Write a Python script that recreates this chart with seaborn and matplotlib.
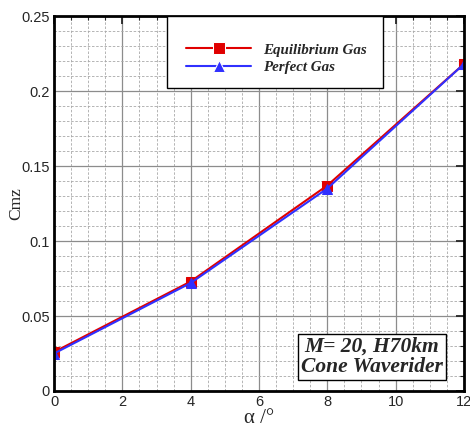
import matplotlib
matplotlib.use('Agg')
import matplotlib.pyplot as plt
import seaborn as sns
import pandas as pd
from matplotlib.ticker import MultipleLocator
from matplotlib.patches import Rectangle

alpha = [0, 4, 8, 12]
cmz_equilibrium = [0.026, 0.073, 0.137, 0.218]
cmz_perfect = [0.025, 0.072, 0.135, 0.218]
series_names = ['Equilibrium Gas', 'Perfect Gas']

df = pd.DataFrame({
    'alpha': alpha * 2,
    'cmz': cmz_equilibrium + cmz_perfect,
    'gas': [series_names[0]] * len(alpha) + [series_names[1]] * len(alpha),
})

sns.set_style('white')
plt.rcParams['font.family'] = ['Liberation Sans', 'DejaVu Sans']

fig = plt.figure(figsize=(4.7, 4.33), dpi=100)
ax = fig.add_axes([0.115, 0.097, 0.872, 0.866])

# grid first so it sits under the lines
ax.xaxis.set_major_locator(MultipleLocator(2))
ax.xaxis.set_minor_locator(MultipleLocator(0.5))
ax.yaxis.set_major_locator(MultipleLocator(0.05))
ax.yaxis.set_minor_locator(MultipleLocator(0.01))
ax.grid(which='major', color='#8c8c8c', lw=0.9, ls='-')
ax.grid(which='minor', color='#a8a8a8', lw=0.6, ls=(0, (3, 2)))
ax.set_axisbelow(True)

sns.lineplot(data=df, x='alpha', y='cmz', hue='gas', style='gas',
             palette={series_names[0]: '#e00000', series_names[1]: '#3030ff'},
             markers={series_names[0]: 's', series_names[1]: '^'},
             dashes=False, markersize=6.5, lw=1.5, ax=ax)
for ln, c in zip(ax.lines, ['#e00000', '#3030ff']):
    ln.set_markeredgecolor(c)

ax.set_xlim(0, 12)
ax.set_ylim(0, 0.25)
ax.set_yticks([0, 0.05, 0.1, 0.15, 0.2, 0.25])
ax.set_yticklabels(['0', '0.05', '0.1', '0.15', '0.2', '0.25'])
ax.tick_params(which='both', direction='in', top=True, right=True, labelsize=10.5, pad=3)
ax.tick_params(which='major', length=6, width=1.3)
ax.tick_params(which='minor', length=3, width=0.8)
for s in ax.spines.values():
    s.set_linewidth(2)
    s.set_color('black')

ax.set_xlabel('α /°', fontsize=15, family='Liberation Serif', labelpad=0)
ax.set_ylabel('Cmz', fontsize=12.5, family='Liberation Serif', labelpad=-2)

# legend box drawn separately so its size matches the reference
ax.add_patch(Rectangle((0.276, 0.808), 0.526, 0.192, transform=ax.transAxes,
                       fc='white', ec='black', lw=1.0, zorder=4))
leg = ax.legend(loc='center left', bbox_to_anchor=(0.29, 0.887), frameon=False,
                handlelength=4.3, labelspacing=0.25, handletextpad=0.8,
                markerscale=1.3,
                prop={'family': 'Liberation Serif', 'style': 'italic', 'weight': 'bold', 'size': 10.8})
leg.set_zorder(5)

ax.text(0.776, 0.091, 'M= 20, H70km\nCone Waverider', transform=ax.transAxes,
        ha='center', va='center', fontsize=15.5, family='Liberation Serif',
        style='italic', weight='bold', linespacing=1.0,
        bbox=dict(boxstyle='square,pad=0.15', fc='white', ec='black', lw=1.0))

fig.savefig('out.png', dpi=100)
